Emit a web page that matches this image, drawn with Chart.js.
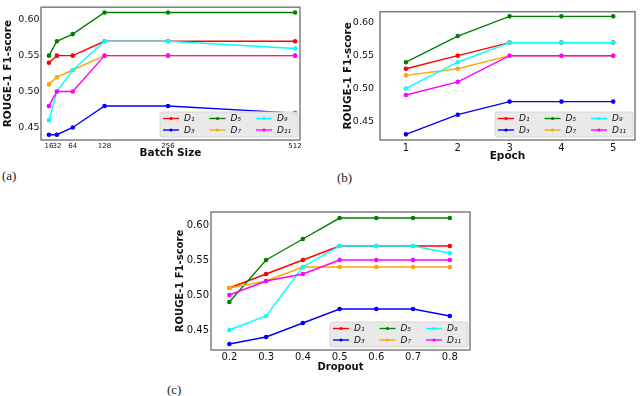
<!DOCTYPE html>
<html lang="en">
<head>
<meta charset="UTF-8">
<title>ROUGE-1 vs hyperparameters</title>
<script src="https://cdn.jsdelivr.net/npm/chart.js@4.4.0/dist/chart.umd.min.js"></script>
<style>
  body { margin: 0; background: #fff; }
  #page { position: relative; width: 640px; height: 396px; overflow: hidden; }
  .box { position: absolute; }
  .cap { position: absolute; font-family: "Liberation Serif", "DejaVu Serif", serif; font-size: 13px; color: #222; }
</style>
</head>
<body>
<div id="page">
  <div class="box" style="left:0;top:0;width:320px;height:162px"><canvas id="chartA" width="320" height="162"></canvas></div>
  <div class="box" style="left:320px;top:0;width:320px;height:165px"><canvas id="chartB" width="320" height="165"></canvas></div>
  <div class="box" style="left:160px;top:200px;width:320px;height:175px"><canvas id="chartC" width="320" height="175"></canvas></div>
  <div class="cap" style="left:2px;top:168px">(a)</div>
  <div class="cap" style="left:337px;top:170px">(b)</div>
  <div class="cap" style="left:167px;top:382px">(c)</div>
</div>
<script>
const seriesNames = ['D₁', 'D₃', 'D₅', 'D₇', 'D₉', 'D₁₁']
const seriesColors = ['#ff0000', '#0000ff', '#008000', '#ffa500', '#00ffff', '#ff00ff']
const yTicks = [0.45, 0.50, 0.55, 0.60]

// (a) batch size
const batchSizes = [16, 32, 64, 128, 256, 512]
const batchD1 = [0.54, 0.55, 0.55, 0.57, 0.57, 0.57]
const batchD3 = [0.44, 0.44, 0.45, 0.48, 0.48, 0.47]
const batchD5 = [0.55, 0.57, 0.58, 0.61, 0.61, 0.61]
const batchD7 = [0.51, 0.52, 0.53, 0.55, 0.55, 0.55]
const batchD9 = [0.46, 0.50, 0.53, 0.57, 0.57, 0.56]
const batchD11 = [0.48, 0.50, 0.50, 0.55, 0.55, 0.55]

// (b) epoch
const epochs = [1, 2, 3, 4, 5]
const epochD1 = [0.53, 0.55, 0.57, 0.57, 0.57]
const epochD3 = [0.43, 0.46, 0.48, 0.48, 0.48]
const epochD5 = [0.54, 0.58, 0.61, 0.61, 0.61]
const epochD7 = [0.52, 0.53, 0.55, 0.55, 0.55]
const epochD9 = [0.50, 0.54, 0.57, 0.57, 0.57]
const epochD11 = [0.49, 0.51, 0.55, 0.55, 0.55]

// (c) dropout
const dropouts = [0.2, 0.3, 0.4, 0.5, 0.6, 0.7, 0.8]
const dropD1 = [0.51, 0.53, 0.55, 0.57, 0.57, 0.57, 0.57]
const dropD3 = [0.43, 0.44, 0.46, 0.48, 0.48, 0.48, 0.47]
const dropD5 = [0.49, 0.55, 0.58, 0.61, 0.61, 0.61, 0.61]
const dropD7 = [0.51, 0.52, 0.54, 0.54, 0.54, 0.54, 0.54]
const dropD9 = [0.45, 0.47, 0.54, 0.57, 0.57, 0.57, 0.56]
const dropD11 = [0.50, 0.52, 0.53, 0.55, 0.55, 0.55, 0.55]

const FONT = '"DejaVu Sans", sans-serif'

// frame round the plot + legend box in the lower right corner
const frameLegend = {
  id: 'frameLegend',
  afterDatasetsDraw(chart) {
    const { ctx, chartArea: a } = chart
    ctx.save()
    ctx.strokeStyle = '#7f7f7f'
    ctx.lineWidth = 1.5
    ctx.strokeRect(a.left, a.top, a.right - a.left, a.bottom - a.top)

    const w = 138, h = 25
    const bx = a.right - 2 - w, by = a.bottom - 3 - h
    ctx.fillStyle = 'rgba(232,232,232,0.95)'
    ctx.strokeStyle = '#d6d6d6'
    ctx.lineWidth = 1
    ctx.beginPath()
    ctx.roundRect(bx, by, w, h, 2)
    ctx.fill()
    ctx.stroke()

    ctx.font = 'italic 9px ' + FONT
    ctx.textBaseline = 'middle'
    chart.data.datasets.forEach((ds, i) => {
      const col = Math.floor(i / 2), row = i % 2
      const x = bx + 3 + col * 46.5
      const y = by + 6.5 + row * 11.5
      ctx.strokeStyle = ds.borderColor
      ctx.lineWidth = 1.4
      ctx.beginPath()
      ctx.moveTo(x, y)
      ctx.lineTo(x + 16, y)
      ctx.stroke()
      ctx.fillStyle = ds.borderColor
      ctx.beginPath()
      ctx.arc(x + 8, y, 1.6, 0, Math.PI * 2)
      ctx.fill()
      ctx.fillStyle = '#111'
      ctx.fillText(ds.label, x + 21, y + 0.5)
    })
    ctx.restore()
  }
}

function makeDatasets(xs, ys) {
  return ys.map((vals, i) => ({
    label: seriesNames[i],
    data: xs.map((x, j) => ({ x: x, y: vals[j] })),
    borderColor: seriesColors[i],
    backgroundColor: seriesColors[i],
    borderWidth: 1.4,
    pointRadius: 1.6,
    pointHoverRadius: 1.6,
    order: ys.length - i
  }))
}

function makeChart(id, cfg) {
  const ctx = document.getElementById(id).getContext('2d')
  return new Chart(ctx, {
    type: 'line',
    data: { datasets: makeDatasets(cfg.xs, cfg.ys) },
    options: {
      responsive: false,
      animation: false,
      layout: { padding: cfg.pad },
      plugins: { legend: { display: false }, tooltip: { enabled: false } },
      scales: {
        x: {
          type: 'linear',
          min: cfg.xMin,
          max: cfg.xMax,
          grid: { display: false, drawTicks: false },
          border: { display: false },
          afterBuildTicks: s => { s.ticks = cfg.xs.map(v => ({ value: v })) },
          afterFit: s => { s.height = cfg.xH },
          ticks: {
            autoSkip: false, maxRotation: 0, padding: cfg.xTickPad,
            color: '#111', font: { family: FONT, size: cfg.xTickSize },
            callback: v => String(v)
          },
          title: {
            display: true, text: cfg.xTitle, color: '#111',
            font: { family: FONT, size: cfg.titleSize, weight: 'bold' },
            padding: { top: 0, bottom: cfg.xTitlePad }
          }
        },
        y: {
          min: cfg.yMin,
          max: cfg.yMax,
          grid: { display: false, drawTicks: false },
          border: { display: false },
          afterBuildTicks: s => { s.ticks = yTicks.map(v => ({ value: v })) },
          afterFit: s => { s.width = cfg.yW },
          ticks: {
            padding: cfg.yTickPad, color: '#111',
            font: { family: FONT, size: cfg.yTickSize },
            callback: v => v.toFixed(2)
          },
          title: {
            display: true, text: 'ROUGE-1 F1-score', color: '#111',
            font: { family: FONT, size: cfg.titleSize, weight: 'bold' },
            padding: { top: cfg.yTitlePad, bottom: 0 }
          }
        }
      }
    },
    plugins: [frameLegend]
  })
}

window.onload = function() {
  makeChart('chartA', {
    xs: batchSizes, ys: [batchD1, batchD3, batchD5, batchD7, batchD9, batchD11],
    xMin: 0, xMax: 522, yMin: 0.4326, yMax: 0.6174,
    pad: { top: 2, right: 20, left: 0, bottom: 0 },
    xH: 22, yW: 41, xTickPad: 2, yTickPad: 1.5, xTickSize: 7, yTickSize: 9.5,
    xTitle: 'Batch Size', xTitlePad: 2, yTitlePad: 2, titleSize: 10.5
  })
  makeChart('chartB', {
    xs: epochs, ys: [epochD1, epochD3, epochD5, epochD7, epochD9, epochD11],
    xMin: 0.5, xMax: 5.42, yMin: 0.4214, yMax: 0.6171,
    pad: { top: 3, right: 5, left: 0, bottom: 0 },
    xH: 25, yW: 60, xTickPad: 2, yTickPad: 6, xTickSize: 10, yTickSize: 9.5,
    xTitle: 'Epoch', xTitlePad: 2, yTitlePad: 22, titleSize: 10.5
  })
  makeChart('chartC', {
    xs: dropouts, ys: [dropD1, dropD3, dropD5, dropD7, dropD9, dropD11],
    xMin: 0.15, xMax: 0.855, yMin: 0.4214, yMax: 0.6186,
    pad: { top: 12, right: 10, left: 0, bottom: 0 },
    xH: 25, yW: 51, xTickPad: 1, yTickPad: 2, xTickSize: 10, yTickSize: 10,
    xTitle: 'Dropout', xTitlePad: 2, yTitlePad: 14, titleSize: 10
  })
}
</script>
</body>
</html>
